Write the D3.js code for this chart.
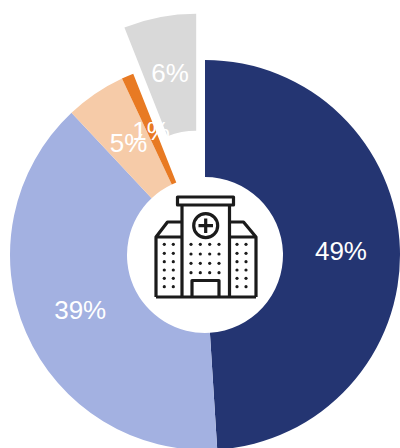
<!DOCTYPE html>
<html><head><meta charset="utf-8">
<script src="https://cdn.jsdelivr.net/npm/d3@7"></script>
<style>html,body{margin:0;padding:0;background:#fff;overflow:hidden}svg{display:block}</style>
</head><body><svg id="c" width="400" height="448"></svg>
<script>
const categories = ["A","B","C","D","E"];
const values = [49,39,5,1,6];
const labels = ["49%","39%","5%","1%","6%"];
const colors = ["#243572","#A3B1E1","#F6CBA8","#E87A23","#D9D9D9"];
const explode = [0,0,0,0,47];
const labelRadius = [136,136,136,136,139];

const svg = d3.select("#c");
const cx = 205, cy = 255, R = 195, r0 = 78;
const pie = d3.pie().sort(null).value(d=>d)(values);
const arc = d3.arc().innerRadius(r0).outerRadius(R);
const g = svg.append("g").attr("transform",`translate(${cx},${cy})`);
const off = (d,i)=>{const a=(d.startAngle+d.endAngle)/2;return [Math.sin(a)*explode[i],-Math.cos(a)*explode[i]];};

g.selectAll("path.s").data(pie).join("path").attr("class","s")
  .attr("d",arc).attr("fill",(d,i)=>colors[i])
  .attr("transform",(d,i)=>`translate(${off(d,i)})`);

g.selectAll("text").data(pie).join("text")
  .attr("transform",(d,i)=>{const a=(d.startAngle+d.endAngle)/2,o=off(d,i);
    return `translate(${o[0]+Math.sin(a)*labelRadius[i]},${o[1]-Math.cos(a)*labelRadius[i]+0.5})`;})
  .attr("text-anchor","middle").attr("dy","0.35em")
  .attr("font-family","'Liberation Sans',Arial,sans-serif").attr("font-size",26)
  .attr("fill","#fff").text((d,i)=>labels[i]);

// hospital icon
const ic = svg.append("g").attr("fill","none").attr("stroke","#1b1b1b").attr("stroke-width",3.2).attr("stroke-linejoin","round");
ic.append("rect").attr("x",177.5).attr("y",197).attr("width",56).attr("height",8);
ic.append("path").attr("d","M182 205V297M229.5 205V297M156 297H256");
ic.append("path").attr("d","M182 222H167.5L156 237V297M156 237H182M229.5 222H243.5L256 237V297M229.5 237H256");
ic.append("circle").attr("cx",205.7).attr("cy",225.7).attr("r",12);
ic.append("path").attr("d","M205.7 218.5V233M198.5 225.7H213");
ic.append("path").attr("d","M192 297V280.5H219V297");
const dotG = svg.append("g").attr("fill","#1b1b1b");
const addDots=(xs,ys)=>xs.forEach(x=>ys.forEach(y=>dotG.append("circle").attr("cx",x).attr("cy",y).attr("r",1.6)));
const wingY=[244.3,253.3,261.7,270,278.3,286.7], midY=[244.3,254,263.3,272.7];
addDots([164.3,173.3],wingY); addDots([237,246],wingY); addDots([191,200.3,209.7,219],midY);
</script></body></html>
